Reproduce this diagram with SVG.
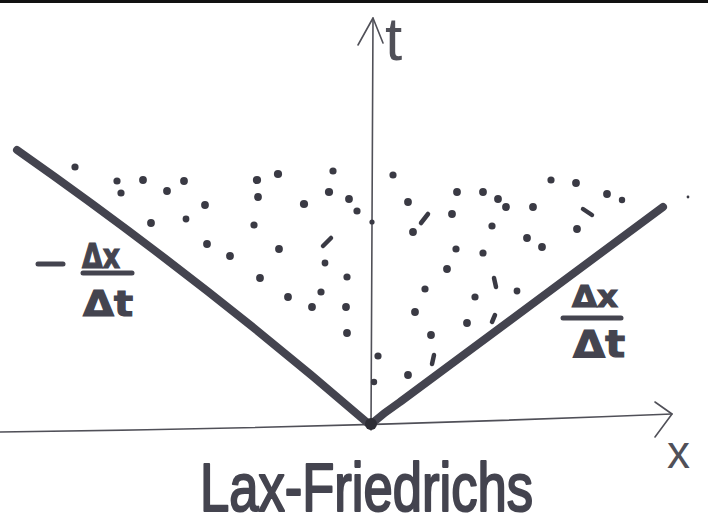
<svg xmlns="http://www.w3.org/2000/svg" width="708" height="528" viewBox="0 0 708 528">
  <style>
    .axis { fill: none; stroke: #505058; stroke-width: 1.6; stroke-linecap: round; stroke-linejoin: round; }
    .bound { fill: none; stroke: #44444f; stroke-width: 8; stroke-linecap: round; stroke-linejoin: round; }
    .dot { fill: #3a3a44; }
    .tick { fill: none; stroke: #3a3a44; stroke-width: 4.5; stroke-linecap: round; }
    .lbl { font-family: "DejaVu Sans", sans-serif; font-weight: bold; fill: #44444f; stroke: #44444f; stroke-width: 1.2; }
    .ax { font-family: "Liberation Sans", sans-serif; fill: #505058; }
    .title { font-family: "Liberation Sans", sans-serif; fill: #44444f; stroke: #44444f; stroke-width: 2.2; stroke-linejoin: round; }
    .bar { stroke: #44444f; stroke-width: 5; stroke-linecap: round; }
  </style>
  <rect x="0" y="0" width="708" height="528" fill="#ffffff"/>
  <rect x="0" y="0" width="708" height="3" fill="#111111"/>

  <g id="connectors">
    <path class="axis" d="M371,430 L373,18"/>
    <path class="axis" d="M358,45 L373,18 L383,43"/>
    <path class="axis" d="M0,432 Q330,428 672,414" stroke-width="2"/>
    <path class="axis" d="M655,402 L672,414 L655,437" stroke-width="2"/>
    <path class="bound" d="M17,150 Q205,282 370,425"/>
    <path class="bound" d="M370,425 Q385,412 400,402 L663,207"/>
    <circle cx="371" cy="424" r="6" fill="#2e2e36"/>
  </g>

  <g id="axis-labels">
    <text class="ax" x="385" y="60" font-size="62">t</text>
    <text class="ax" x="667" y="468" font-size="46">x</text>
  </g>

  <g id="label-left">
    <path class="bar" d="M38,264 L63,264"/>
    <text class="lbl" x="82" y="268" font-size="34" textLength="38" lengthAdjust="spacingAndGlyphs">Δx</text>
    <path class="bar" d="M83,273 L132,273"/>
    <text class="lbl" x="83" y="316" font-size="36" textLength="50" lengthAdjust="spacingAndGlyphs">Δt</text>
  </g>

  <g id="label-right">
    <text class="lbl" x="572" y="307" font-size="30" textLength="46" lengthAdjust="spacingAndGlyphs">Δx</text>
    <path class="bar" d="M563,318 L621,318"/>
    <text class="lbl" x="573" y="357" font-size="38" textLength="52" lengthAdjust="spacingAndGlyphs">Δt</text>
  </g>

  <g id="dots">
    <circle class="dot" cx="75" cy="167" r="3.6"/>
    <circle class="dot" cx="117" cy="181" r="3.6"/>
    <circle class="dot" cx="143" cy="180" r="3.9"/>
    <circle class="dot" cx="184" cy="181" r="3.9"/>
    <circle class="dot" cx="121" cy="193" r="3.6"/>
    <circle class="dot" cx="167" cy="191" r="3.9"/>
    <circle class="dot" cx="205" cy="205" r="3.9"/>
    <circle class="dot" cx="151" cy="223" r="3.9"/>
    <circle class="dot" cx="186" cy="219" r="3.4"/>
    <circle class="dot" cx="207" cy="244" r="3.9"/>
    <circle class="dot" cx="230" cy="256" r="3.9"/>
    <circle class="dot" cx="257" cy="180" r="4.1"/>
    <circle class="dot" cx="278" cy="174" r="4.1"/>
    <circle class="dot" cx="258" cy="197" r="3.9"/>
    <circle class="dot" cx="254" cy="225" r="3.6"/>
    <circle class="dot" cx="279" cy="249" r="3.9"/>
    <circle class="dot" cx="333" cy="171" r="3.6"/>
    <circle class="dot" cx="329" cy="192" r="4.1"/>
    <circle class="dot" cx="304" cy="204" r="4.1"/>
    <circle class="dot" cx="349" cy="199" r="3.9"/>
    <circle class="dot" cx="357" cy="211" r="3.6"/>
    <path class="tick" d="M323,246 L331,238"/>
    <circle class="dot" cx="325" cy="263" r="3.4"/>
    <circle class="dot" cx="347" cy="277" r="3.6"/>
    <circle class="dot" cx="260" cy="278" r="3.9"/>
    <circle class="dot" cx="288" cy="297" r="3.9"/>
    <circle class="dot" cx="321" cy="292" r="3.6"/>
    <circle class="dot" cx="312" cy="307" r="3.9"/>
    <circle class="dot" cx="346" cy="307" r="3.9"/>
    <circle class="dot" cx="347" cy="333" r="3.9"/>
    <circle class="dot" cx="378" cy="356" r="3.6"/>
    <circle class="dot" cx="374" cy="382" r="3.2"/>
    <circle class="dot" cx="372" cy="222" r="2.6"/>

    <circle class="dot" cx="393" cy="175" r="3.6"/>
    <circle class="dot" cx="408" cy="202" r="3.9"/>
    <circle class="dot" cx="457" cy="192" r="3.9"/>
    <circle class="dot" cx="483" cy="192" r="3.9"/>
    <circle class="dot" cx="498" cy="199" r="3.9"/>
    <circle class="dot" cx="506" cy="207" r="3.9"/>
    <circle class="dot" cx="533" cy="207" r="3.9"/>
    <circle class="dot" cx="551" cy="180" r="3.6"/>
    <circle class="dot" cx="576" cy="183" r="3.9"/>
    <circle class="dot" cx="607" cy="194" r="3.9"/>
    <circle class="dot" cx="622" cy="200" r="3.2"/>
    <path class="tick" d="M583,209 L592,215"/>
    <path class="tick" d="M421,223 L428,214"/>
    <circle class="dot" cx="413" cy="232" r="3.9"/>
    <circle class="dot" cx="452" cy="214" r="3.9"/>
    <circle class="dot" cx="492" cy="226" r="3.6"/>
    <circle class="dot" cx="577" cy="229" r="3.9"/>
    <circle class="dot" cx="527" cy="238" r="3.9"/>
    <circle class="dot" cx="542" cy="247" r="3.9"/>
    <circle class="dot" cx="456" cy="249" r="3.6"/>
    <circle class="dot" cx="483" cy="253" r="3.6"/>
    <circle class="dot" cx="447" cy="269" r="3.9"/>
    <path class="tick" d="M494,278 L496,287"/>
    <circle class="dot" cx="517" cy="291" r="3.4"/>
    <circle class="dot" cx="425" cy="289" r="3.6"/>
    <circle class="dot" cx="475" cy="297" r="3.6"/>
    <circle class="dot" cx="688" cy="197" r="1.4"/>
    <circle class="dot" cx="415" cy="312" r="3.9"/>
    <circle class="dot" cx="431" cy="335" r="3.9"/>
    <circle class="dot" cx="408" cy="375" r="3.9"/>
    <circle class="dot" cx="467" cy="323" r="3.9"/>
    <path class="tick" d="M492,322 L495,315"/>
    <path class="tick" d="M432,364 L434,355"/>
  </g>

  <g id="title">
    <text class="title" x="200" y="511" font-size="68" textLength="333" lengthAdjust="spacingAndGlyphs">Lax-Friedrichs</text>
  </g>
</svg>
